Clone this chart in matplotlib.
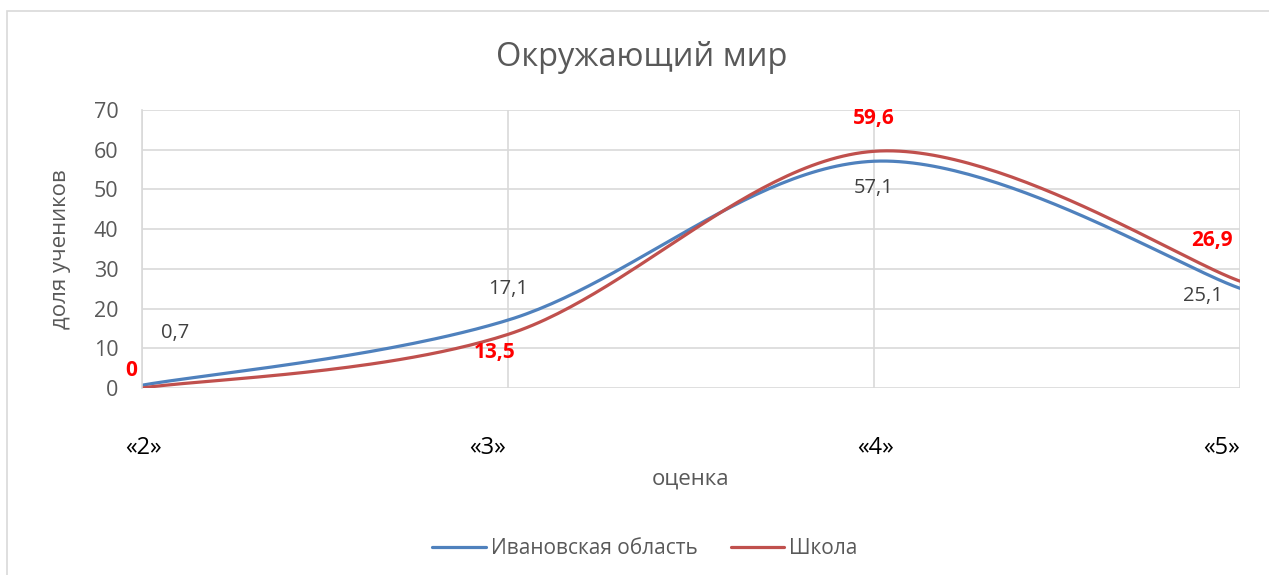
import numpy as np
import matplotlib
matplotlib.use("Agg")
import matplotlib.pyplot as plt
from matplotlib.patches import Rectangle
from matplotlib.transforms import offset_copy

plt.rcParams['font.family'] = ['Open Sans', 'DejaVu Sans']

# %% data
categories = ['«2»', '«3»', '«4»', '«5»']
region = [0.7, 17.1, 57.1, 25.1]
school = [0, 13.5, 59.6, 26.9]
region_labels = ['0,7', '17,1', '57,1', '25,1']
school_labels = ['0', '13,5', '59,6', '26,9']
series_names = ['Ивановская область', 'Школа']

blue = '#4F81BD'
red = '#C0504D'
grey_txt = '#595959'
grid_col = '#D9D9D9'


def excel_smooth(xs, ys, n=60):
    # bezier smoothing like excel (catmull-rom, tension 1/6)
    xs = np.asarray(xs, float)
    ys = np.asarray(ys, float)
    px = np.concatenate([[xs[0]], xs, [xs[-1]]])
    py = np.concatenate([[ys[0]], ys, [ys[-1]]])
    outx, outy = [], []
    t = np.linspace(0, 1, n)
    for i in range(1, len(xs)):
        p0 = np.array([px[i], py[i]])
        p3 = np.array([px[i + 1], py[i + 1]])
        c1 = p0 + (np.array([px[i + 1], py[i + 1]]) - np.array([px[i - 1], py[i - 1]])) / 6
        c2 = p3 - (np.array([px[i + 2], py[i + 2]]) - np.array([px[i], py[i]])) / 6
        b = ((1 - t) ** 3)[:, None] * p0 + (3 * (1 - t) ** 2 * t)[:, None] * c1 \
            + (3 * (1 - t) * t ** 2)[:, None] * c2 + (t ** 3)[:, None] * p3
        outx.extend(b[:, 0])
        outy.extend(b[:, 1])
    return np.array(outx), np.array(outy)


x = np.arange(len(categories))

fig = plt.figure(figsize=(12.69, 5.75), dpi=100)
fig.patches.append(Rectangle((7 / 1269, -0.1), 1.2, 1 - 11 / 575 + 0.1,
                             transform=fig.transFigure, fill=False,
                             edgecolor=grid_col, linewidth=1.2))
ax = fig.add_axes([142 / 1269, 1 - 388 / 575, 1098 / 1269, 278 / 575])

sx, sy = excel_smooth(x, region)
ax.plot(sx, sy, color=blue, linewidth=2.3, label=series_names[0], solid_capstyle='round')
sx, sy = excel_smooth(x, school)
ax.plot(sx, sy, color=red, linewidth=2.3, label=series_names[1], solid_capstyle='round')

# data labels
reg_off = [(33, 52), (0, 31), (0, -27), (-37, -8)]
sch_off = [(-11, 18), (-13, -18), (0, 33), (-28, 41)]
for i in range(len(x)):
    ax.annotate(region_labels[i], (x[i], region[i]), xytext=reg_off[i],
                textcoords='offset pixels', ha='center', va='center',
                fontsize=14.5, color='#404040', annotation_clip=False)
    ax.annotate(school_labels[i], (x[i], school[i]), xytext=sch_off[i],
                textcoords='offset pixels', ha='center', va='center',
                fontsize=15, color='red', fontweight='bold', annotation_clip=False)

ax.set_xlim(0, 3)
ax.set_ylim(0, 70)
ax.set_yticks(range(0, 71, 10))
ax.set_xticks(x)
ax.set_xticklabels([])
ax.tick_params(axis='x', length=0)
ax.tick_params(axis='y', length=0, pad=17, labelsize=15.5, labelcolor=grey_txt)

# category labels sit well below the axis, some nudged left
cat_shift = [1, -21, 2, -19]
for i, lab in enumerate(categories):
    tr = offset_copy(ax.get_xaxis_transform(), fig=fig, x=cat_shift[i], y=-60, units='dots')
    ax.text(x[i], 0, lab, transform=tr, ha='center', va='center',
            fontsize=17, color='black')

ax.grid(True, color=grid_col, linewidth=1.2)
ax.set_axisbelow(True)
for s in ax.spines.values():
    s.set_visible(False)
ax.spines['left'].set_visible(True)
ax.spines['left'].set_color(grid_col)
ax.spines['left'].set_linewidth(1.2)

ax.text(0.5, 0, 'оценка', transform=offset_copy(ax.transAxes, fig=fig, y=-91, units='dots'),
        ha='center', va='center', fontsize=16, color=grey_txt)
ax.set_ylabel('доля учеников', fontsize=16, color=grey_txt, labelpad=16)
fig.text(642 / 1269, 1 - 57 / 575, 'Окружающий мир', ha='center', va='center',
         fontsize=23.5, color=grey_txt)

fig.legend(loc='center', bbox_to_anchor=(645 / 1269, 1 - 549 / 575), ncol=2,
           frameon=False, fontsize=15, labelcolor=grey_txt, handlelength=2.55,
           handletextpad=0.25, columnspacing=1.6)

fig.savefig('out.png', dpi=100)
